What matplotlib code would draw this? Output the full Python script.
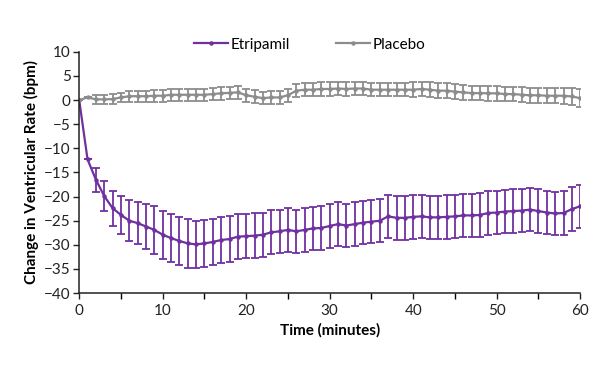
import matplotlib

matplotlib.use("Agg")
import matplotlib.pyplot as plt
import numpy as np

plt.rcParams["font.family"] = ["Lato", "DejaVu Sans"]

minutes = list(range(61))

# mean change in ventricular rate (bpm)
etripamil = [
    0.0, -12.3, -16.5, -19.9, -22.4, -23.8, -25.0, -25.5, -26.2, -26.9,
    -27.9, -28.6, -29.2, -29.7, -29.9, -29.7, -29.4, -29.0, -28.8, -28.3,
    -28.2, -28.1, -27.9, -27.4, -27.2, -26.9, -27.2, -26.9, -26.6, -26.5,
    -26.1, -25.7, -26.0, -25.7, -25.4, -25.2, -25.0, -24.1, -24.4, -24.4,
    -24.2, -24.1, -24.3, -24.3, -24.2, -24.1, -23.9, -23.9, -23.8, -23.4,
    -23.3, -23.1, -23.0, -22.9, -22.7, -23.0, -23.3, -23.5, -23.4, -22.6,
    -22.0,
]
etripamil_err = [
    0.0, 0.0, 2.5, 3.1, 3.6, 3.9, 4.2, 4.4, 4.7, 4.9,
    5.0, 4.9, 4.9, 5.0, 4.9, 4.9, 4.8, 4.8, 4.7, 4.7,
    4.6, 4.6, 4.6, 4.6, 4.5, 4.5, 4.5, 4.5, 4.5, 4.5,
    4.5, 4.5, 4.5, 4.5, 4.5, 4.5, 4.5, 4.5, 4.5, 4.5,
    4.5, 4.5, 4.5, 4.5, 4.5, 4.5, 4.5, 4.5, 4.5, 4.5,
    4.5, 4.5, 4.5, 4.5, 4.5, 4.5, 4.5, 4.5, 4.5, 4.5,
    4.5,
]
placebo = [
    0.0, 0.55, 0.15, 0.15, 0.2, 0.55, 0.8, 0.8, 0.8, 0.9,
    0.9, 1.1, 1.1, 1.1, 1.1, 1.1, 1.25, 1.4, 1.5, 1.6,
    1.0, 0.7, 0.4, 0.55, 0.55, 1.0, 1.95, 2.15, 2.15, 2.3,
    2.3, 2.4, 2.3, 2.4, 2.4, 2.15, 2.15, 2.15, 2.15, 2.15,
    2.15, 2.3, 2.15, 1.95, 1.95, 1.75, 1.6, 1.45, 1.45, 1.4,
    1.4, 1.25, 1.25, 1.1, 1.0, 1.0, 0.9, 0.9, 0.9, 0.75,
    0.4,
]
placebo_err = [
    0.0, 0.0, 0.95, 0.95, 1.0, 1.0, 1.1, 1.1, 1.1, 1.2,
    1.2, 1.2, 1.2, 1.3, 1.3, 1.3, 1.3, 1.3, 1.3, 1.3,
    1.3, 1.3, 1.3, 1.3, 1.3, 1.3, 1.4, 1.4, 1.4, 1.4,
    1.4, 1.4, 1.4, 1.4, 1.4, 1.4, 1.4, 1.4, 1.4, 1.4,
    1.5, 1.5, 1.5, 1.5, 1.5, 1.5, 1.5, 1.5, 1.5, 1.5,
    1.5, 1.5, 1.5, 1.6, 1.6, 1.6, 1.6, 1.6, 1.7, 1.7,
    1.8,
]

PURPLE = "#7030a0"
GREY = "#8c8c8c"

fig = plt.figure(figsize=(6.0, 3.65), dpi=100)
ax = fig.add_axes([0.132, 0.197, 0.835, 0.661])

ax.errorbar(minutes, etripamil, yerr=etripamil_err, color=PURPLE, lw=1.6, marker="o", ms=2.2,
            elinewidth=1.3, capsize=2.8, capthick=1.3, label="Etripamil")
ax.errorbar(minutes, placebo, yerr=placebo_err, color=GREY, lw=1.6, marker="o", ms=2.2,
            elinewidth=1.3, capsize=2.8, capthick=1.3, label="Placebo")

ax.set_xlim(0, 60)
ax.set_ylim(-40, 10)
ax.set_xticks(np.arange(0, 61, 10))
ax.set_xticks(np.arange(0, 61, 5), minor=True)
ax.set_yticks(np.arange(-40, 11, 5))
ax.tick_params(axis="both", direction="out", length=4, width=1, labelsize=11, colors="#222222")
ax.tick_params(axis="x", which="minor", direction="out", length=4, width=1)
ax.tick_params(axis="y", pad=2)
for side in ("top", "right"):
    ax.spines[side].set_visible(False)
for side in ("left", "bottom"):
    ax.spines[side].set_color("#222222")
    ax.spines[side].set_linewidth(1.1)

ax.set_xlabel("Time (minutes)", fontsize=11, fontweight="bold", labelpad=4)
ax.set_ylabel("Change in Ventricular Rate (bpm)", fontsize=11, fontweight="bold", labelpad=4)

handles, labels = ax.get_legend_handles_labels()
handles = [h[0] for h in handles]
ax.legend(handles, labels, loc="lower center", bbox_to_anchor=(0.46, 0.975), ncol=2, frameon=False,
          fontsize=11, handlelength=2.2, handletextpad=0.2, columnspacing=3.0, borderaxespad=0)

fig.savefig("out.png", dpi=100)
